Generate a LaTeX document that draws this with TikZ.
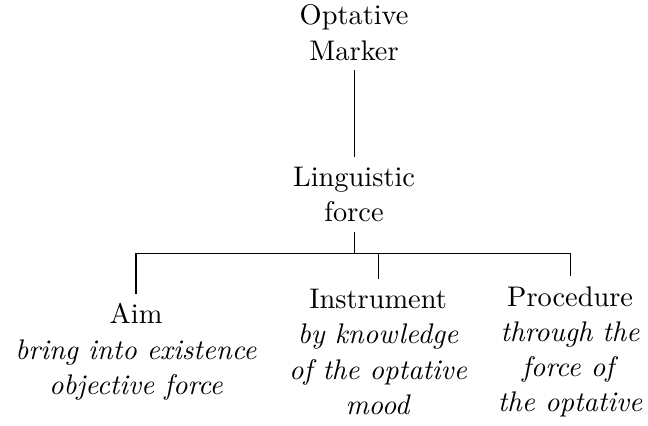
\documentclass[tikz,border=0pt,11pt]{standalone}
\usepackage{tikz}
\usetikzlibrary{positioning}
\tikzstyle{concept} = [align=center]
\tikzstyle{branch} = [draw, thin]

\begin{document}
\begin{tikzpicture}
			\useasboundingbox (0, 0) rectangle (8.79, 5.77);
			\node[concept] (marker) at (4.803, 5.327) {Optative\\Marker};
			\node[concept] (force) at (4.803, 3.136) {Linguistic\\force};
			\node[concept] (aim) at (1.845, 0.997) {Aim\\\textit{bring into existence}\\\textit{objective force}};
			\node[concept] (instrument) at (5.129, 0.997) {Instrument\\\textit{by knowledge}\\\textit{of the optative}\\\textit{mood}};
			\node[concept] (procedure) at (7.734, 0.997) {Procedure\\\textit{through the}\\\textit{force of}\\\textit{the optative}};
			\coordinate (bar) at (4.803, 2.334);
			\draw[branch] (marker) -- (force);
			\draw[branch] (force) -- (bar);
			\draw[branch] (aim) |- (bar) -| (procedure);
			\draw[branch] (instrument) -- (instrument |- bar);
		\end{tikzpicture}
\end{document}
